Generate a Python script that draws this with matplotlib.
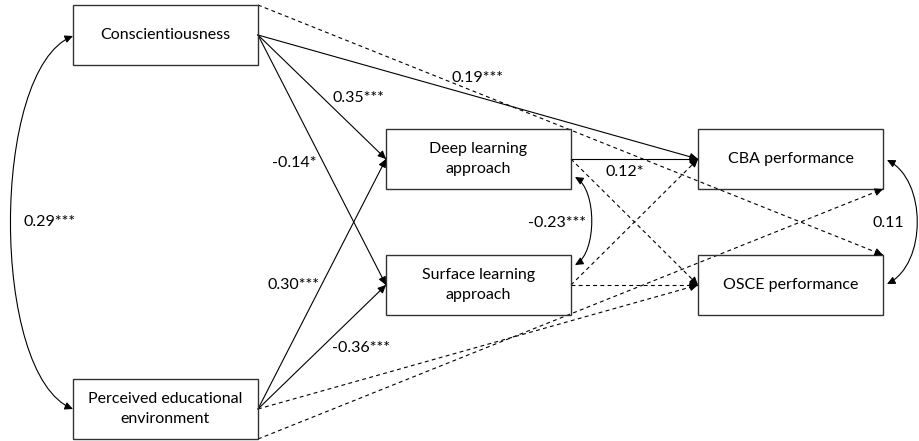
import matplotlib
matplotlib.use("Agg")
import matplotlib.pyplot as plt
from matplotlib.patches import Rectangle, FancyArrowPatch
from matplotlib.path import Path
import math

plt.rcParams['font.family'] = ['Lato', 'DejaVu Sans']

# Nodes
node_names = ["consc", "pee", "deep", "surf", "cba", "osce"]
node_labels = ["Conscientiousness", "Perceived educational\nenvironment",
               "Deep learning\napproach", "Surface learning\napproach",
               "CBA performance", "OSCE performance"]

# Path coefficients (labels)
coef_consc_deep = "0.35***"
coef_consc_surf = "-0.14*"
coef_pee_deep = "0.30***"
coef_pee_surf = "-0.36***"
coef_consc_cba = "0.19***"
coef_deep_cba = "0.12*"
cov_consc_pee = "0.29***"
cov_deep_surf = "-0.23***"
cov_cba_osce = "0.11"

# Layout (pixel positions)
W, H = 185, 60
pos = {"consc": (73, 5), "pee": (73, 379), "deep": (386, 129), "surf": (386, 255),
       "cba": (698, 129), "osce": (698, 255)}

fig = plt.figure(figsize=(9.2, 4.41), dpi=100)
ax = fig.add_axes([0, 0, 1, 1])
ax.set_xlim(0, 920)
ax.set_ylim(441, 0)
ax.axis('off')

FS = 11.5
for n, lab in zip(node_names, node_labels):
    x, y = pos[n]
    ax.add_patch(Rectangle((x, y), W, H, fill=False, ec='#333333', lw=1.0, zorder=3))
    ax.text(x + W / 2, y + H / 2, lab, ha='center', va='center', fontsize=FS,
            linespacing=1.5, zorder=4)

def lm(n):
    x, y = pos[n]; return (x, y + H / 2)
def rm(n):
    x, y = pos[n]; return (x + W, y + H / 2)

def head(p0, p1):
    dx, dy = p1[0] - p0[0], p1[1] - p0[1]
    L = math.hypot(dx, dy)
    s = (p1[0] - dx / L * 8, p1[1] - dy / L * 8)
    ax.add_patch(FancyArrowPatch(s, p1, arrowstyle='-|>,head_length=4.8,head_width=2.3',
                                 mutation_scale=1, color='black', lw=0.8,
                                 shrinkA=0, shrinkB=0, zorder=5))

def arrow(p0, p1, dashed=False):
    if dashed:
        ax.plot([p0[0], p1[0]], [p0[1], p1[1]], color='black', lw=0.8,
                dashes=(3.5, 3), zorder=2)
    else:
        ax.plot([p0[0], p1[0]], [p0[1], p1[1]], color='black', lw=0.8, zorder=2)
    head(p0, p1)

# Solid paths
arrow(rm("consc"), lm("deep"))
arrow(rm("consc"), lm("surf"))
arrow(rm("pee"), lm("deep"))
arrow(rm("pee"), lm("surf"))
arrow(rm("consc"), lm("cba"))
arrow(rm("deep"), lm("cba"))

# Dashed (non-significant) paths
cx, cy = pos["consc"]
px, py = pos["pee"]
ox, oy = pos["osce"]
bx, by = pos["cba"]
arrow((cx + W, cy), (ox + W, oy), dashed=True)
arrow((px + W, py + H), (bx + W, by + H), dashed=True)
arrow(rm("pee"), lm("osce"), dashed=True)
arrow(rm("deep"), lm("osce"), dashed=True)
arrow(rm("surf"), lm("cba"), dashed=True)
arrow(rm("surf"), lm("osce"), dashed=True)

# Curved covariances
def curve(p0, c1, c2, p1):
    path = Path([p0, c1, c2, p1], [Path.MOVETO, Path.CURVE4, Path.CURVE4, Path.CURVE4])
    ax.add_patch(FancyArrowPatch(path=path, arrowstyle='<|-|>,head_length=4.8,head_width=2.3',
                                 mutation_scale=1, color='black', lw=0.8, zorder=5))

curve((73, 36), (-10, 70), (-10, 375), (73, 409))
curve((575, 177), (597, 190), (597, 252), (575, 265))
curve((887, 160), (927, 180), (927, 264), (887, 284))

# Labels
ax.text(358, 98, coef_consc_deep, ha='center', va='center', fontsize=FS)
ax.text(294, 163, coef_consc_surf, ha='center', va='center', fontsize=FS)
ax.text(294, 285, coef_pee_deep, ha='center', va='center', fontsize=FS)
ax.text(361, 348, coef_pee_surf, ha='center', va='center', fontsize=FS)
ax.text(478, 78, coef_consc_cba, ha='center', va='center', fontsize=FS)
ax.text(625, 172, coef_deep_cba, ha='center', va='center', fontsize=FS)
ax.text(50, 222, cov_consc_pee, ha='center', va='center', fontsize=FS)
ax.text(557, 223, cov_deep_surf, ha='center', va='center', fontsize=FS)
ax.text(888, 223, cov_cba_osce, ha='center', va='center', fontsize=FS)

fig.savefig("out.png", dpi=100)
